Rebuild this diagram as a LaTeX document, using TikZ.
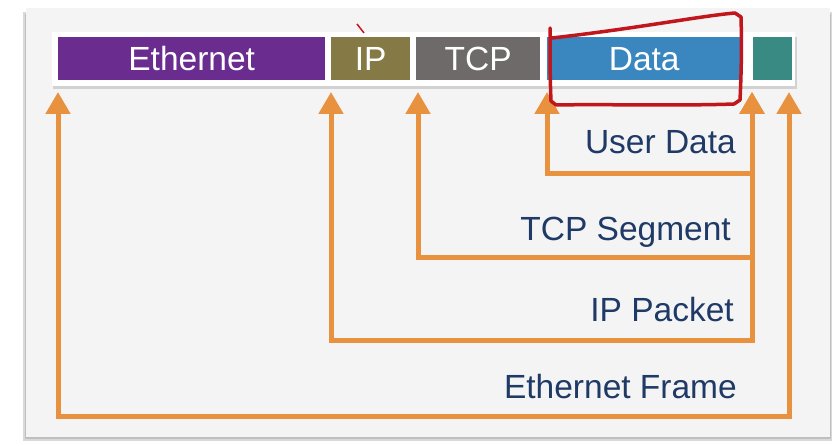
\documentclass[tikz,border=0pt]{standalone}
\usepackage{fontspec}
\setmainfont{Liberation Sans}
\usetikzlibrary{arrows.meta}
\definecolor{ethc}{HTML}{6A2D8F}
\definecolor{ipc}{HTML}{857A46}
\definecolor{tcpc}{HTML}{6E6A6A}
\definecolor{datac}{HTML}{3A87C0}
\definecolor{tealc}{HTML}{3A8A84}
\definecolor{orc}{HTML}{E8913E}
\definecolor{txtc}{HTML}{1F3A66}
\definecolor{redc}{HTML}{C0161C}
\definecolor{panelc}{HTML}{F4F4F4}
\tikzset{
  seg/.style={anchor=north west, minimum height=43pt, inner sep=0pt, text=white, font=\fontsize{33.5}{38}\selectfont},
  lbl/.style={anchor=base east, inner sep=0pt, text=txtc, font=\fontsize{33.5}{38}\selectfont},
  brk/.style={draw=orc, line width=5pt, {Triangle[length=22pt,width=24pt]}-{Triangle[length=22pt,width=24pt]}},
  pen/.style={draw=redc, line width=3.5pt, line cap=round, line join=round}
}
\begin{document}
\begin{tikzpicture}[x=1pt,y=-1pt]
\useasboundingbox (0,0) rectangle (840,446);
\fill[white] (0,0) rectangle (840,446);
% panel shadow and panel
\fill[gray!30] (23,12) rectangle (832,441);
\fill[gray!50] (25,14) rectangle (831,439);
\fill[panelc] (26,8) rectangle (830,437);
% white strip behind bar with shadow
\fill[gray!35] (53,37) rectangle (797,89);
\fill[white] (52,32) rectangle (795,86);
% segments
\node[seg, fill=ethc, minimum width=267pt] (eth) at (58,37) {Ethernet};
\node[seg, fill=ipc, minimum width=79pt] (ip) at (331,37) {IP};
\node[seg, fill=tcpc, minimum width=124pt] (tcp) at (416,37) {TCP};
\node[seg, fill=datac, minimum width=194pt] (data) at (547,37) {Data};
\node[seg, fill=tealc, minimum width=39pt] (fcs) at (753,37) {};
% tip coordinates
\coordinate (tEth) at (58,92);
\coordinate (tIp) at (331,92);
\coordinate (tTcp) at (418,92);
\coordinate (tData) at (547,92);
\coordinate (tR1) at (752,92);
\coordinate (tR2) at (789,92);
% brackets
\draw[brk] (tData) -- (547,174) -- (752,174) -- (tR1);
\draw[brk] (tTcp) -- (418,258) -- (752,258) -- (tR1);
\draw[brk] (tIp) -- (331,340) -- (752,340) -- (tR1);
\draw[brk] (tEth) -- (58,416) -- (789,416) -- (tR2);
% labels
\node[lbl] (lud) at (736,154) {User Data};
\node[lbl] (lts) at (731,241) {TCP Segment};
\node[lbl] (lip) at (734,321) {IP Packet};
\node[lbl] (lef) at (737,398) {Ethernet Frame};
% hand-drawn red marks
\draw[pen] (552,38) .. controls (640,28) and (700,16) .. (735,13) -- (741,17)
  .. controls (742,50) and (741,80) .. (740,100) -- (734,104)
  .. controls (680,106) and (600,104) .. (556,105) -- (551,101)
  .. controls (550,80) and (550,50) .. (550,28);
\draw[redc, line width=1.5pt] (357,24) -- (364,33);
\end{tikzpicture}
\end{document}
